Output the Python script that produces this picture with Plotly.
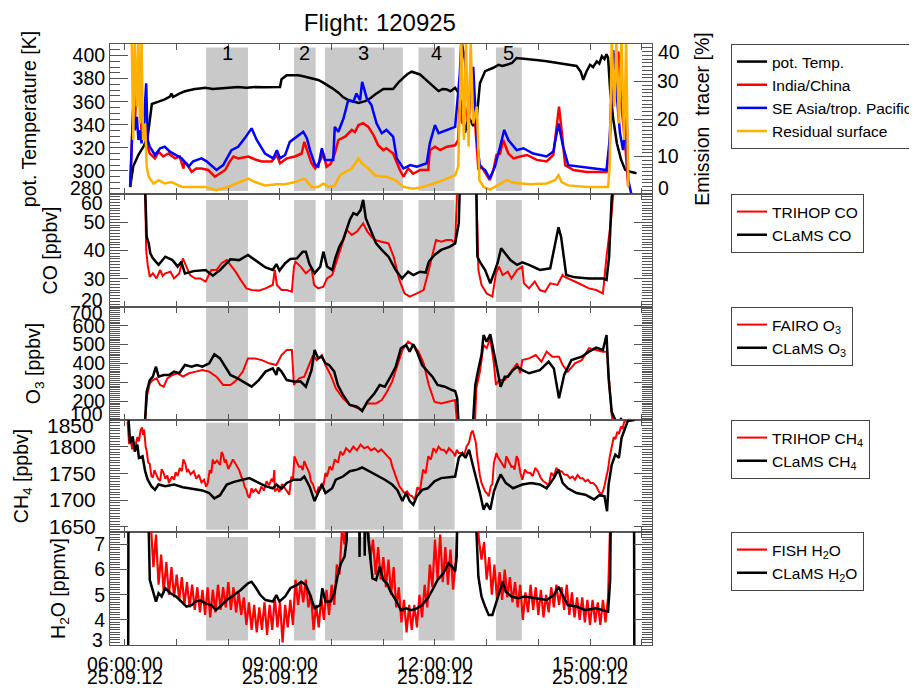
import plotly.graph_objects as go

# ---------------- data (hours UTC, value) ----------------
flight_title = "Flight: 120925"
date_label = "25.09.12"
labelled_hours = [6, 9, 12, 15]
time_labels = ["06:00:00", "09:00:00", "12:00:00", "15:00:00"]

region_start = [7.57, 9.27, 9.87, 11.68, 13.18]
region_end = [8.38, 9.69, 11.38, 12.38, 13.68]
region_names = ["1", "2", "3", "4", "5"]

theta = [(6.10, 286), (6.16, 304), (6.26, 314), (6.37, 322), (6.44, 330), (6.48, 345), (6.52, 358),
         (6.65, 360), (6.77, 362), (6.87, 364.5), (6.90, 367), (6.93, 364), (6.97, 365), (7.05, 367),
         (7.16, 369), (7.25, 370), (7.35, 371), (7.45, 371.5), (7.55, 372), (7.70, 371), (7.87, 371.6),
         (8.00, 372), (8.19, 372.7), (8.35, 372), (8.52, 372.7), (8.70, 372.5), (8.85, 372.7), (9.00, 372.7),
         (9.03, 379.4), (9.13, 382.9), (9.25, 383), (9.35, 382.9), (9.45, 382), (9.55, 380.8), (9.65, 380),
         (9.74, 378.8), (9.82, 377), (9.90, 375), (10.00, 372), (10.13, 367.8), (10.22, 364), (10.32, 361.4),
         (10.42, 360), (10.52, 359), (10.65, 360.5), (10.75, 363), (10.84, 366.3), (10.92, 369), (11.00, 371),
         (11.19, 371), (11.30, 377), (11.39, 380.8), (11.47, 384), (11.55, 386), (11.63, 385), (11.71, 383.6),
         (11.80, 380), (11.90, 376.4), (12.00, 372), (12.07, 369.2), (12.15, 371), (12.23, 370.6), (12.30, 369),
         (12.39, 372), (12.45, 368), (12.52, 356), (12.58, 333), (12.65, 347), (12.74, 339), (12.81, 347),
         (12.87, 376), (12.97, 386.5), (13.05, 388), (13.13, 389.4), (13.23, 392), (13.30, 391), (13.39, 392),
         (13.49, 393.5), (13.58, 397.9), (13.70, 397.5), (13.84, 397), (14.00, 396), (14.16, 395), (14.30, 394),
         (14.48, 393), (14.60, 392.5), (14.74, 391), (14.82, 386), (14.87, 379), (14.93, 386), (15.00, 392),
         (15.06, 390), (15.13, 395), (15.18, 393), (15.23, 399.5), (15.28, 397), (15.32, 401), (15.35, 398),
         (15.39, 370), (15.45, 345), (15.52, 324), (15.60, 310), (15.68, 301), (15.80, 299), (15.90, 298)]

tracer_india = [(6.10, 1.9), (6.13, 11.7), (6.16, 23.3), (6.19, 17.9), (6.23, 32), (6.26, 27.7), (6.29, 35.3),
                (6.32, 14.4), (6.35, 18.8), (6.40, 23.3), (6.44, 12.6), (6.48, 10.8), (6.58, 9.5), (6.65, 11.3),
                (6.74, 10), (6.84, 10.8), (6.97, 9.5), (7.06, 10), (7.13, 6.8), (7.15, 8.5), (7.19, 8.2),
                (7.29, 5.9), (7.38, 6.8), (7.48, 6.8), (7.61, 6.4), (7.74, 4.6), (7.85, 5.6), (7.94, 6.4),
                (8.02, 8.5), (8.10, 10), (8.19, 9.5), (8.30, 9.8), (8.39, 10), (8.52, 9.2), (8.65, 8.7),
                (8.84, 8.7), (8.94, 10.4), (9.00, 8.2), (9.13, 9.5), (9.29, 10), (9.42, 10.8), (9.47, 13.9),
                (9.52, 11.7), (9.61, 8.2), (9.68, 6.8), (9.77, 8.7), (9.84, 10.8), (9.90, 7.3), (9.98, 8),
                (10.06, 10.8), (10.13, 14.4), (10.26, 15.3), (10.39, 17.1), (10.45, 16.5), (10.52, 18.4),
                (10.61, 18.9), (10.71, 17.9), (10.81, 15.7), (10.90, 13), (11.00, 11.7), (11.06, 12.2),
                (11.19, 10.8), (11.32, 6.4), (11.39, 4.6), (11.48, 6.8), (11.58, 5.4), (11.71, 6.4), (11.87, 6.4),
                (11.90, 11.7), (12.00, 12.6), (12.10, 11.7), (12.23, 12.6), (12.39, 13), (12.45, 14.4),
                (12.48, 25), (12.53, 18.8), (12.58, 23.3), (12.65, 18.8), (12.71, 32), (12.77, 18.8),
                (12.84, 6.4), (12.90, 7.3), (13.00, 5), (13.06, 3.7), (13.13, 6.4), (13.19, 10.4), (13.26, 10.8),
                (13.32, 14.4), (13.42, 10.8), (13.52, 9.5), (13.65, 10), (13.78, 10.4), (13.97, 9.1),
                (14.16, 8.7), (14.29, 10.4), (14.35, 17.1), (14.40, 23.3), (14.45, 17.1), (14.52, 7.7),
                (14.68, 6.4), (14.94, 5.9), (15.13, 5.9), (15.32, 5.9), (15.38, 12.6), (15.45, 37.5),
                (15.50, 33.9), (15.55, 38), (15.61, 23.3), (15.68, 13.5), (15.74, 1.9)]

tracer_seasia = [(6.10, 1.9), (6.13, 14.4), (6.16, 23.3), (6.19, 17), (6.23, 20.6), (6.26, 14.4), (6.29, 17),
                 (6.32, 13.5), (6.37, 19.7), (6.41, 29.5), (6.44, 14.4), (6.48, 12.6), (6.58, 10.4),
                 (6.68, 12.2), (6.77, 12.6), (6.87, 11.3), (7.00, 10.4), (7.10, 9.5), (7.23, 7.3), (7.32, 8.7),
                 (7.48, 9.5), (7.58, 8.7), (7.77, 6.4), (7.90, 7.7), (8.06, 11.7), (8.19, 12.6), (8.32, 14.9),
                 (8.45, 17.5), (8.55, 14.4), (8.71, 10.8), (8.87, 9.5), (8.94, 11.7), (9.00, 9.5), (9.10, 10.4),
                 (9.19, 13.9), (9.32, 15.3), (9.45, 16.6), (9.52, 14.9), (9.58, 11.7), (9.68, 7.7), (9.74, 7.3),
                 (9.81, 12.2), (9.87, 9.1), (10.03, 9.1), (10.06, 17.9), (10.13, 16.6), (10.23, 20.2),
                 (10.32, 25), (10.42, 24.6), (10.48, 26.8), (10.55, 25), (10.59, 29.9), (10.68, 25.5),
                 (10.77, 23.7), (10.87, 18.8), (10.97, 16.2), (11.06, 17.1), (11.19, 15.3), (11.26, 9.5),
                 (11.39, 6.8), (11.52, 7.7), (11.65, 7.3), (11.84, 8.2), (11.90, 13.5), (12.00, 18.4),
                 (12.07, 16.2), (12.23, 17.1), (12.39, 17.9), (12.48, 32), (12.51, 41), (12.58, 35.7),
                 (12.65, 23.3), (12.74, 33.9), (12.81, 14.4), (12.87, 7.3), (12.97, 6.4), (13.06, 4.1),
                 (13.16, 7.3), (13.26, 12.6), (13.34, 17.1), (13.42, 14.4), (13.58, 11.7), (13.71, 12.2),
                 (13.90, 10.8), (14.16, 10), (14.29, 11.3), (14.39, 18.8), (14.48, 12.6), (14.58, 7.7),
                 (14.81, 7.3), (15.06, 6.8), (15.32, 6.4), (15.38, 14.4), (15.45, 38.4), (15.51, 27.7),
                 (15.58, 16.2), (15.64, 11.7), (15.71, 20.6), (15.74, 3.7), (15.80, 0), (15.90, -0.2)]

tracer_residual = [(6.13, 41), (6.16, 14.4), (6.19, 41), (6.23, 23.3), (6.26, 41), (6.29, 18.8), (6.32, 41),
                   (6.35, 14.4), (6.39, 18.8), (6.42, 7.3), (6.46, 4.6), (6.55, 2.8), (6.65, 3.7), (6.77, 2.8),
                   (6.90, 3.2), (7.10, 1.9), (7.35, 1.9), (7.55, 1.9), (7.77, 1.0), (8.00, 1.9), (8.19, 3.0),
                   (8.39, 4.1), (8.52, 3.2), (8.71, 2.3), (8.94, 2.6), (9.10, 2.6), (9.29, 3.2), (9.48, 4.1),
                   (9.61, 1.9), (9.74, 1.9), (9.84, 2.8), (9.94, 1.9), (10.06, 2.3), (10.16, 5), (10.26, 5.9),
                   (10.39, 6.8), (10.52, 9.5), (10.58, 8.2), (10.71, 6.8), (10.84, 5), (11.00, 4.6),
                   (11.06, 4.6), (11.23, 3.7), (11.39, 1.9), (11.58, 1.4), (11.77, 1.9), (11.97, 2.8),
                   (12.16, 3.7), (12.39, 5), (12.45, 7.3), (12.48, 23.3), (12.51, 41), (12.56, 14.4),
                   (12.60, 41), (12.65, 12.6), (12.69, 41), (12.74, 18.8), (12.81, 23.3), (12.86, 3.7),
                   (12.94, 1.9), (13.06, 1.2), (13.26, 2.8), (13.39, 3.7), (13.52, 3.0), (13.84, 2.6),
                   (14.16, 2.8), (14.32, 3.7), (14.39, 5), (14.45, 3.2), (14.58, 2.3), (14.94, 1.9),
                   (15.35, 1.9), (15.38, 7.3), (15.42, 41), (15.47, 23.3), (15.51, 41), (15.56, 18.8),
                   (15.61, 41), (15.66, 14.4), (15.70, 41), (15.72, 11.7), (15.74, 1.9)]

co_trihop = [(6.39, 62), (6.41, 40.2), (6.44, 34.9), (6.48, 30.7), (6.54, 31.9), (6.61, 30.1), (6.68, 33.1),
             (6.73, 31.0), (6.78, 31.9), (6.88, 32.5), (6.95, 30.1), (7.05, 31.9), (7.12, 37.2), (7.17, 34.9),
             (7.26, 31.3), (7.36, 30.1), (7.46, 30.1), (7.56, 29), (7.67, 33.1), (7.77, 33.1), (7.87, 35.5),
             (7.97, 36.6), (8.04, 34.9), (8.14, 32.5), (8.24, 29.6), (8.35, 26.6), (8.45, 26), (8.59, 25.8),
             (8.72, 26.6), (8.86, 27.8), (8.90, 33.1), (8.94, 27.8), (9.03, 26), (9.13, 26), (9.23, 25.4),
             (9.27, 34.3), (9.30, 36), (9.40, 34.3), (9.50, 31.9), (9.61, 33.7), (9.66, 27.8), (9.74, 26.6),
             (9.84, 27.2), (9.91, 30.1), (10.01, 31.3), (10.12, 37.8), (10.22, 43.7), (10.29, 47.3),
             (10.39, 45.5), (10.49, 46.7), (10.61, 49.6), (10.69, 46.7), (10.83, 43.7), (10.97, 43.1),
             (11.10, 42.5), (11.20, 37.8), (11.31, 29.6), (11.41, 24.8), (11.51, 23.7), (11.65, 24.8),
             (11.78, 26), (11.88, 33.1), (11.95, 39), (12.02, 43.7), (12.12, 43.1), (12.22, 43.7),
             (12.32, 43.7), (12.39, 42.5), (12.43, 62), (12.80, 62), (12.84, 33.1), (12.90, 27.8),
             (13.00, 24.8), (13.11, 23.7), (13.18, 31.9), (13.24, 34.3), (13.31, 31.3), (13.41, 32.5),
             (13.48, 30.1), (13.59, 33.1), (13.69, 34.3), (13.72, 28.4), (13.82, 26.6), (13.93, 29),
             (14.03, 26), (14.13, 25.4), (14.23, 28.4), (14.37, 27.8), (14.47, 31.3), (14.50, 30.7),
             (14.78, 28.4), (14.98, 26.6), (15.12, 26), (15.25, 24.8), (15.32, 37.8), (15.41, 51.4),
             (15.46, 62)]

co_clams = [(6.39, 62), (6.42, 44.9), (6.46, 42.5), (6.49, 39), (6.54, 37.2), (6.65, 34.9), (6.78, 37.8),
            (6.92, 36.6), (7.02, 34.3), (7.09, 36), (7.16, 31.9), (7.33, 32.7), (7.56, 33.1), (7.70, 31.1),
            (7.84, 33.1), (8.04, 36.9), (8.21, 36.6), (8.38, 38.4), (8.52, 36.6), (8.72, 34), (8.86, 33.1),
            (8.93, 35.2), (8.99, 32.9), (9.10, 35.5), (9.20, 37), (9.33, 37.2), (9.44, 39.6), (9.50, 39.6),
            (9.57, 35.2), (9.67, 31.9), (9.78, 34.3), (9.84, 39.6), (9.91, 34.3), (10.01, 33.1), (10.08, 37.8),
            (10.15, 41.4), (10.22, 43.7), (10.29, 47.8), (10.35, 50.8), (10.42, 53.2), (10.49, 52.6),
            (10.56, 54.3), (10.61, 57.9), (10.66, 51.4), (10.76, 46.7), (10.86, 42.5), (10.97, 40.2),
            (11.10, 37.8), (11.24, 33.1), (11.36, 30.1), (11.48, 32.5), (11.58, 31.3), (11.71, 32.5),
            (11.82, 32.2), (11.88, 36), (11.99, 38.4), (12.12, 40.2), (12.29, 41.4), (12.39, 42.5),
            (12.46, 49.6), (12.48, 62), (12.80, 62), (12.82, 37.8), (12.87, 36), (12.97, 33.1), (13.07, 28.4),
            (13.14, 31.9), (13.21, 35.5), (13.28, 40.8), (13.35, 39), (13.46, 36.6), (13.59, 34.9),
            (13.69, 35.8), (13.82, 34.9), (14.03, 33.1), (14.23, 33.7), (14.33, 42.5), (14.39, 48.2),
            (14.44, 44.9), (14.54, 31.3), (14.71, 30.5), (14.98, 30.1), (15.25, 30.1), (15.32, 29.6),
            (15.37, 37.8), (15.42, 59), (15.46, 62)]

o3_fairo = [(6.38, 60), (6.43, 233), (6.48, 295), (6.54, 312), (6.61, 321), (6.68, 286), (6.75, 277),
            (6.82, 321), (6.92, 339), (7.02, 348), (7.12, 330), (7.24, 348), (7.37, 357), (7.50, 365),
            (7.63, 357), (7.77, 330), (7.90, 286), (8.04, 286), (8.14, 307), (8.28, 357), (8.38, 427),
            (8.52, 427), (8.65, 418), (8.79, 401), (8.93, 392), (9.03, 445), (9.13, 472), (9.23, 472),
            (9.27, 286), (9.37, 321), (9.47, 330), (9.57, 392), (9.64, 445), (9.71, 418), (9.81, 445),
            (9.88, 392), (9.98, 339), (10.08, 268), (10.22, 215), (10.35, 180), (10.49, 162), (10.59, 153),
            (10.69, 188), (10.86, 188), (10.97, 206), (11.07, 250), (11.17, 304), (11.27, 392), (11.37, 472),
            (11.48, 516), (11.58, 498), (11.68, 463), (11.78, 401), (11.88, 286), (11.99, 197), (12.12, 188),
            (12.26, 197), (12.39, 206), (12.43, 60), (12.77, 60), (12.80, 268), (12.87, 357), (12.94, 498),
            (13.00, 481), (13.07, 534), (13.14, 401), (13.18, 286), (13.24, 312), (13.35, 312), (13.48, 357),
            (13.59, 401), (13.65, 348), (13.69, 418), (13.82, 427), (13.95, 445), (14.06, 410), (14.16, 463),
            (14.27, 436), (14.40, 436), (14.47, 392), (14.57, 357), (14.71, 401), (14.84, 418), (14.98, 481),
            (15.12, 472), (15.25, 463), (15.33, 463), (15.42, 127), (15.46, 60)]

o3_clams = [(6.38, 60), (6.42, 250), (6.48, 312), (6.54, 330), (6.60, 383), (6.65, 330), (6.75, 339),
            (6.85, 339), (6.95, 357), (7.05, 348), (7.16, 392), (7.29, 383), (7.39, 392), (7.50, 383),
            (7.63, 401), (7.73, 449), (7.84, 427), (7.94, 383), (8.04, 339), (8.18, 321), (8.31, 300),
            (8.45, 277), (8.59, 312), (8.72, 357), (8.86, 374), (8.93, 339), (8.96, 378), (9.03, 357),
            (9.13, 312), (9.27, 304), (9.40, 304), (9.50, 277), (9.61, 365), (9.67, 472), (9.74, 427),
            (9.81, 436), (9.88, 401), (9.95, 392), (10.05, 357), (10.12, 286), (10.22, 233), (10.35, 180),
            (10.49, 171), (10.59, 148), (10.69, 197), (10.83, 242), (10.93, 286), (11.03, 277), (11.14, 330),
            (11.24, 383), (11.34, 481), (11.44, 498), (11.51, 463), (11.58, 502), (11.65, 463), (11.75, 392),
            (11.86, 357), (11.95, 330), (12.05, 286), (12.19, 277), (12.33, 259), (12.39, 254), (12.43, 215),
            (12.46, 60), (12.73, 60), (12.78, 286), (12.83, 357), (12.90, 445), (12.94, 551), (13.00, 516),
            (13.07, 555), (13.14, 454), (13.20, 357), (13.27, 277), (13.35, 330), (13.41, 330), (13.51, 365),
            (13.59, 383), (13.69, 365), (13.82, 348), (14.03, 365), (14.20, 410), (14.30, 374), (14.40, 215),
            (14.50, 339), (14.64, 418), (14.84, 436), (14.98, 463), (15.12, 484), (15.25, 472), (15.32, 551),
            (15.36, 321), (15.42, 144), (15.49, 100), (15.55, 92), (15.60, 105), (15.66, 90), (15.75, 100),
            (15.86, 97)]

ch4_trihop = [(6.05, 1847), (6.08, 1805), (6.11, 1812), (6.14, 1795), (6.17, 1808), (6.20, 1800), (6.24, 1818),
              (6.27, 1810), (6.30, 1830), (6.33, 1836), (6.35, 1822), (6.37, 1832), (6.40, 1800), (6.42, 1792),
              (6.45, 1770), (6.48, 1768), (6.51, 1745), (6.54, 1742), (6.57, 1756), (6.61, 1748), (6.64, 1740),
              (6.68, 1736), (6.71, 1758), (6.75, 1750), (6.78, 1740), (6.82, 1746), (6.85, 1732), (6.88, 1738),
              (6.91, 1744), (6.95, 1738), (6.98, 1752), (7.02, 1745), (7.06, 1760), (7.10, 1754), (7.13, 1776),
              (7.17, 1768), (7.20, 1752), (7.22, 1758), (7.27, 1748), (7.33, 1754), (7.38, 1740), (7.43, 1747),
              (7.48, 1733), (7.53, 1738), (7.57, 1725), (7.60, 1731), (7.64, 1756), (7.67, 1750), (7.70, 1776),
              (7.73, 1768), (7.78, 1774), (7.84, 1766), (7.87, 1790), (7.90, 1784), (7.93, 1770), (7.95, 1776),
              (8.00, 1758), (8.04, 1766), (8.09, 1776), (8.14, 1768), (8.18, 1762), (8.21, 1756), (8.25, 1744),
              (8.28, 1738), (8.32, 1724), (8.35, 1719), (8.38, 1708), (8.41, 1704), (8.45, 1722), (8.48, 1715),
              (8.53, 1720), (8.59, 1712), (8.64, 1725), (8.69, 1718), (8.74, 1735), (8.79, 1728), (8.84, 1740),
              (8.87, 1734), (8.89, 1756), (8.90, 1716), (8.95, 1722), (8.99, 1715), (9.04, 1730), (9.10, 1722),
              (9.14, 1716), (9.18, 1710), (9.22, 1744), (9.25, 1738), (9.28, 1782), (9.30, 1776), (9.34, 1768),
              (9.37, 1762), (9.41, 1763), (9.44, 1756), (9.47, 1773), (9.50, 1766), (9.54, 1757), (9.57, 1750),
              (9.60, 1735), (9.64, 1729), (9.67, 1719), (9.71, 1712), (9.75, 1725), (9.78, 1718), (9.81, 1732),
              (9.84, 1726), (9.88, 1751), (9.91, 1744), (9.96, 1763), (10.01, 1756), (10.06, 1776), (10.12, 1770),
              (10.17, 1791), (10.22, 1784), (10.28, 1797), (10.35, 1790), (10.42, 1800), (10.49, 1793),
              (10.56, 1804), (10.63, 1797), (10.70, 1800), (10.76, 1793), (10.83, 1797), (10.90, 1790),
              (10.96, 1795), (11.03, 1788), (11.08, 1782), (11.14, 1776), (11.17, 1764), (11.20, 1757),
              (11.25, 1742), (11.31, 1726), (11.36, 1720), (11.41, 1713), (11.46, 1716), (11.51, 1709),
              (11.56, 1707), (11.61, 1700), (11.66, 1724), (11.71, 1718), (11.77, 1757), (11.82, 1750),
              (11.87, 1782), (11.92, 1776), (11.97, 1797), (12.02, 1790), (12.07, 1800), (12.12, 1794),
              (12.17, 1794), (12.22, 1788), (12.27, 1797), (12.33, 1790), (12.36, 1788), (12.39, 1782),
              (12.42, 1794), (12.46, 1788), (12.51, 1788), (12.56, 1782), (12.61, 1800), (12.66, 1808),
              (12.70, 1826), (12.73, 1830), (12.76, 1818), (12.79, 1808), (12.82, 1780), (12.84, 1764),
              (12.87, 1745), (12.90, 1732), (12.94, 1722), (12.97, 1716), (13.01, 1712), (13.04, 1707),
              (13.08, 1726), (13.11, 1730), (13.14, 1770), (13.16, 1778), (13.19, 1788), (13.21, 1782),
              (13.25, 1776), (13.28, 1770), (13.32, 1766), (13.35, 1760), (13.38, 1782), (13.41, 1776),
              (13.45, 1769), (13.48, 1762), (13.51, 1763), (13.54, 1757), (13.58, 1782), (13.61, 1776),
              (13.65, 1752), (13.69, 1738), (13.74, 1757), (13.79, 1751), (13.84, 1751), (13.89, 1745),
              (13.94, 1760), (13.99, 1754), (14.05, 1741), (14.10, 1735), (14.15, 1732), (14.20, 1726),
              (14.25, 1751), (14.30, 1745), (14.35, 1760), (14.40, 1754), (14.45, 1754), (14.50, 1748),
              (14.56, 1747), (14.61, 1741), (14.66, 1744), (14.71, 1738), (14.76, 1747), (14.81, 1741),
              (14.86, 1741), (14.91, 1735), (14.96, 1738), (15.01, 1732), (15.06, 1732), (15.12, 1726),
              (15.17, 1716), (15.22, 1710), (15.25, 1716), (15.28, 1726), (15.32, 1745), (15.35, 1758),
              (15.38, 1780), (15.42, 1802), (15.46, 1818), (15.49, 1814), (15.53, 1828), (15.56, 1824),
              (15.60, 1838), (15.63, 1833), (15.66, 1846), (15.69, 1848)]

ch4_clams = [(6.07, 1850), (6.10, 1807), (6.15, 1819), (6.19, 1791), (6.24, 1804), (6.27, 1779), (6.34, 1782),
             (6.39, 1754), (6.44, 1738), (6.51, 1726), (6.58, 1719), (6.65, 1729), (6.78, 1726), (6.95, 1729),
             (7.12, 1724), (7.29, 1721), (7.50, 1718), (7.63, 1713), (7.73, 1703), (7.84, 1709), (7.97, 1729),
             (8.11, 1734), (8.28, 1738), (8.41, 1741), (8.59, 1732), (8.72, 1726), (8.86, 1722), (8.93, 1729),
             (9.03, 1721), (9.13, 1732), (9.27, 1738), (9.40, 1738), (9.47, 1744), (9.57, 1726), (9.67, 1698),
             (9.74, 1713), (9.81, 1729), (9.88, 1713), (10.01, 1722), (10.08, 1738), (10.22, 1744),
             (10.35, 1754), (10.49, 1757), (10.59, 1761), (10.73, 1754), (10.86, 1748), (11.03, 1738),
             (11.17, 1729), (11.27, 1719), (11.37, 1698), (11.44, 1713), (11.51, 1698), (11.58, 1691),
             (11.65, 1707), (11.75, 1719), (11.86, 1722), (11.99, 1735), (12.12, 1741), (12.26, 1742),
             (12.39, 1744), (12.46, 1779), (12.53, 1788), (12.59, 1779), (12.66, 1794), (12.73, 1766),
             (12.80, 1741), (12.87, 1713), (12.94, 1682), (13.00, 1694), (13.07, 1682), (13.14, 1716),
             (13.20, 1732), (13.27, 1748), (13.37, 1732), (13.51, 1722), (13.69, 1729), (13.86, 1732),
             (14.03, 1729), (14.16, 1722), (14.30, 1741), (14.39, 1757), (14.47, 1732), (14.57, 1722),
             (14.74, 1713), (14.91, 1710), (15.08, 1701), (15.18, 1709), (15.28, 1707), (15.33, 1679),
             (15.36, 1729), (15.42, 1766), (15.49, 1785), (15.56, 1779), (15.61, 1816), (15.66, 1829),
             (15.73, 1848), (15.86, 1850)]

h2o_fish = [(6.48, 8.5), (6.50, 7.8), (6.55, 6.1), (6.60, 7.4), (6.65, 5.4), (6.70, 6.6), (6.75, 5.1),
            (6.80, 6.3), (6.85, 5.0), (6.90, 6.1), (6.95, 4.9), (7.00, 5.8), (7.05, 4.8), (7.10, 5.7),
            (7.15, 4.6), (7.20, 5.5), (7.25, 4.5), (7.30, 5.4), (7.35, 4.4), (7.40, 5.3), (7.45, 4.3),
            (7.50, 5.2), (7.55, 4.2), (7.60, 5.3), (7.65, 4.1), (7.70, 5.2), (7.75, 4.3), (7.80, 5.4),
            (7.85, 4.4), (7.90, 5.3), (7.95, 4.5), (8.00, 5.5), (8.05, 4.4), (8.10, 5.3), (8.15, 4.3),
            (8.20, 5.1), (8.25, 4.2), (8.30, 4.9), (8.35, 3.8), (8.40, 4.7), (8.45, 3.6), (8.50, 4.6),
            (8.55, 3.5), (8.60, 4.5), (8.65, 3.6), (8.70, 4.7), (8.75, 3.4), (8.80, 4.6), (8.85, 3.6),
            (8.90, 4.9), (8.95, 3.7), (9.00, 4.7), (9.05, 3.1), (9.10, 4.6), (9.15, 3.7), (9.20, 4.8),
            (9.25, 3.8), (9.30, 5.6), (9.35, 4.6), (9.40, 5.5), (9.45, 4.7), (9.50, 5.6), (9.55, 4.5),
            (9.60, 5.0), (9.65, 3.6), (9.70, 4.6), (9.75, 3.7), (9.80, 4.9), (9.85, 4.0), (9.90, 5.2),
            (9.95, 4.2), (10.00, 5.4), (10.05, 4.6), (10.10, 6.2), (10.15, 5.8), (10.20, 7.6), (10.25, 7.0),
            (10.30, 8.5), (10.70, 8.5), (10.72, 7.3), (10.75, 6.4), (10.80, 7.2), (10.85, 5.8), (10.90, 6.9),
            (10.95, 5.6), (11.00, 6.5), (11.05, 5.3), (11.10, 6.4), (11.15, 5.0), (11.20, 6.1), (11.25, 4.5),
            (11.30, 5.3), (11.35, 3.9), (11.40, 4.8), (11.45, 3.5), (11.50, 4.6), (11.55, 3.6), (11.60, 4.6),
            (11.65, 3.7), (11.70, 5.0), (11.75, 4.1), (11.80, 5.4), (11.85, 4.5), (11.90, 6.2), (11.95, 5.3),
            (12.00, 7.2), (12.05, 5.6), (12.10, 7.4), (12.15, 5.5), (12.20, 6.9), (12.25, 5.4), (12.30, 6.8),
            (12.35, 5.2), (12.40, 6.3), (12.45, 8.5), (12.80, 8.5), (12.85, 7.2), (12.90, 6.4), (12.95, 7.1),
            (13.00, 5.6), (13.05, 6.5), (13.10, 5.0), (13.15, 6.2), (13.20, 4.8), (13.25, 5.9), (13.30, 4.8),
            (13.35, 6.0), (13.40, 4.9), (13.45, 5.7), (13.50, 4.7), (13.55, 5.5), (13.60, 4.5), (13.65, 5.4),
            (13.70, 4.0), (13.75, 5.1), (13.80, 4.3), (13.85, 5.4), (13.90, 4.4), (13.95, 5.3), (14.00, 4.2),
            (14.05, 5.2), (14.10, 4.1), (14.15, 5.0), (14.20, 4.3), (14.25, 5.3), (14.30, 4.5), (14.35, 5.4),
            (14.40, 4.6), (14.45, 5.3), (14.50, 4.4), (14.55, 5.4), (14.60, 4.2), (14.65, 5.1), (14.70, 4.1),
            (14.75, 4.9), (14.80, 4.0), (14.85, 4.9), (14.90, 3.9), (14.95, 4.8), (15.00, 3.8), (15.05, 4.8),
            (15.10, 3.9), (15.15, 4.7), (15.20, 3.8), (15.25, 4.8), (15.30, 3.9), (15.35, 4.9), (15.40, 8.5)]

h2o_clams = [(6.06, 0.0), (6.07, 12.0), (6.45, 12.0), (6.46, 7.6), (6.48, 5.59), (6.54, 5.19), (6.60, 4.73),
             (6.65, 5.06), (6.71, 4.93), (6.78, 5.26), (6.88, 5.06), (6.99, 4.93), (7.09, 4.73), (7.19, 4.53),
             (7.29, 4.59), (7.36, 4.73), (7.46, 4.77), (7.56, 4.66), (7.67, 4.59), (7.76, 4.39), (7.84, 4.53),
             (7.97, 4.79), (8.11, 4.99), (8.24, 5.19), (8.38, 5.46), (8.45, 5.52), (8.52, 5.32), (8.62, 4.99),
             (8.72, 4.79), (8.86, 4.73), (8.93, 4.99), (8.99, 4.73), (9.10, 4.93), (9.20, 5.26), (9.33, 5.39),
             (9.41, 5.52), (9.50, 5.39), (9.57, 5.06), (9.67, 4.46), (9.78, 4.59), (9.82, 5.26), (9.88, 4.73),
             (9.98, 4.73), (10.05, 5.06), (10.12, 5.79), (10.18, 6.25), (10.25, 6.52), (10.29, 7.18),
             (10.32, 9.0), (10.53, 9.0), (10.54, 6.5), (10.55, 9.0), (10.63, 9.0), (10.64, 6.55), (10.65, 9.0),
             (10.69, 7.6), (10.76, 6.25), (10.79, 5.65), (10.86, 5.59), (10.93, 6.12), (11.00, 5.59),
             (11.07, 5.46), (11.14, 5.12), (11.24, 4.79), (11.34, 4.39), (11.44, 4.46), (11.54, 4.39),
             (11.65, 4.46), (11.75, 4.59), (11.86, 4.86), (11.95, 5.19), (12.05, 5.59), (12.16, 5.85),
             (12.26, 6.25), (12.33, 6.12), (12.39, 5.92), (12.42, 6.52), (12.44, 7.6), (12.46, 12.0),
             (12.79, 12.0), (12.80, 7.6), (12.84, 5.72), (12.90, 4.93), (12.97, 4.53), (13.04, 4.19),
             (13.11, 4.19), (13.18, 4.66), (13.24, 4.99), (13.31, 5.52), (13.37, 5.12), (13.48, 4.93),
             (13.61, 4.86), (13.73, 4.93), (13.95, 4.86), (14.16, 4.79), (14.30, 4.99), (14.39, 5.32),
             (14.47, 4.99), (14.57, 4.59), (14.74, 4.53), (14.91, 4.39), (15.12, 4.46), (15.25, 4.39),
             (15.35, 4.33), (15.39, 5.59), (15.41, 7.6), (15.42, 12.0), (15.85, 12.0), (15.86, 0.0)]


def unzip(pairs):
    return [p[0] for p in pairs], [p[1] for p in pairs]


# ---------------- styling ----------------
FONT = "Liberation Sans, Arial, Helvetica, sans-serif"
TICKFONT = dict(family=FONT, size=19.5, color="black")
LINEC = "#555555"
RED, BLUE, ORANGE, BLACK = "#ff0000", "#0000ff", "#ffb000", "#000000"
SHADE = "#c9c9c9"

W, H = 917, 688
OFF = 8                       # page body margin offset of the rendered page
L, T = 110 - OFF, 44 - OFF    # plot area left/top in figure pixels
PLOT_W = 542
PLOT_B = 645 - OFF
R = W - L - PLOT_W
B = H - PLOT_B
PH = PLOT_B - T
panel_top = [44, 194, 307, 420, 532]
panel_bot = [194, 307, 420, 532, 645]


def dom(i):
    return [(645 - panel_bot[i]) / PH, (645 - panel_top[i]) / PH]


fig = go.Figure()


def add(pairs, name, color, width, xa, ya, leg):
    x, y = unzip(pairs)
    fig.add_trace(go.Scatter(x=x, y=y, mode="lines", name=name,
                             line=dict(color=color, width=width),
                             xaxis=xa, yaxis=ya, legend=leg))


add(theta, "pot. Temp.", BLACK, 2.5, "x", "y", "legend")
add(tracer_india, "India/China", RED, 2.5, "x", "y6", "legend")
add(tracer_seasia, "SE Asia/trop. Pacific", BLUE, 2.5, "x", "y6", "legend")
add(tracer_residual, "Residual surface", ORANGE, 2.5, "x", "y6", "legend")
add(co_trihop, "TRIHOP CO", RED, 2, "x2", "y2", "legend2")
add(co_clams, "CLaMS CO", BLACK, 2.5, "x2", "y2", "legend2")
add(o3_fairo, "FAIRO O<sub>3</sub>", RED, 2, "x3", "y3", "legend3")
add(o3_clams, "CLaMS O<sub>3</sub>", BLACK, 2.5, "x3", "y3", "legend3")
add(ch4_trihop, "TRIHOP CH<sub>4</sub>", RED, 2, "x4", "y4", "legend4")
add(ch4_clams, "CLaMS CH<sub>4</sub>", BLACK, 2.5, "x4", "y4", "legend4")
add(h2o_fish, "FISH H<sub>2</sub>O", RED, 2.2, "x5", "y5", "legend5")
add(h2o_clams, "CLaMS H<sub>2</sub>O", BLACK, 2.5, "x5", "y5", "legend5")

common = dict(showline=True, linecolor=LINEC, linewidth=1, ticks="inside", tickcolor=LINEC,
              showgrid=False, zeroline=False, tickfont=TICKFONT)

layout = dict(width=W, height=H, paper_bgcolor="white", plot_bgcolor="white",
              margin=dict(l=L, r=R, t=T, b=B, autoexpand=False),
              font=dict(family=FONT, color="black"),
              title=dict(text=flight_title, x=0.498, xref="paper", xanchor="center",
                         y=1 - (23 - OFF) / H, yref="container", yanchor="middle",
                         font=dict(family=FONT, size=24, color="black")))

for i in range(5):
    key = "xaxis" if i == 0 else f"xaxis{i + 1}"
    ax = dict(common, domain=[0, 1], anchor="y" if i == 0 else f"y{i + 1}", range=[5.71, 16.2],
              tickmode="array", tickvals=labelled_hours, ticktext=time_labels, ticklen=6,
              minor=dict(ticks="inside", tickmode="linear", tick0=6, dtick=1, ticklen=6, tickcolor=LINEC),
              mirror="allticks", showticklabels=(i == 4), ticklabelstandoff=2)
    if i > 0:
        ax["matches"] = "x"
    layout[key] = ax


def yax(i, rng, tv, dt_minor, title, standoff, **kw):
    d = dict(common, domain=dom(i), range=rng, tickmode="array", tickvals=tv,
             ticktext=[f"{v:g}" for v in tv], ticklen=18,
             minor=dict(ticks="inside", tickmode="linear", tick0=rng[0], dtick=dt_minor, ticklen=10,
                        tickcolor=LINEC),
             title=dict(text=title, standoff=standoff, font=dict(family=FONT, size=19.5, color="black")))
    d.update(kw)
    return d


layout["yaxis"] = yax(0, [280, 410], [300, 320, 340, 360, 380, 400], 5,
                      "pot. Temperature [K]", 30, anchor="x", mirror=False)
layout["yaxis6"] = yax(0, [0, 40], [10, 20, 30], 1,
                       "Emission\u00a0 tracer [%]", 17, anchor="x", overlaying="y", side="right",
                       mirror=False)
layout["yaxis2"] = yax(1, [20, 60], [30, 40, 50], 1,
                       "CO [ppbv]", 20, anchor="x2", mirror="allticks")
layout["yaxis3"] = yax(2, [100, 700], [200, 300, 400, 500, 600], 10,
                       "O<sub>3</sub> [ppbv]", 26, anchor="x3", mirror="allticks")
layout["yaxis4"] = yax(3, [1640, 1850], [1650, 1700, 1750, 1800], 5,
                       "CH<sub>4</sub> [ppbv]", 15, anchor="x4", mirror="allticks",
                       ticklabelstandoff=9, tickfont=dict(family=FONT, size=21, color="black"))
layout["yaxis5"] = yax(4, [3, 7.5], [4, 5, 6, 7], 0.1,
                       "H<sub>2</sub>O [ppmv]", 23, anchor="x5", mirror="allticks")

# legends
leg_x = (731 - 110) / PLOT_W
for i in range(5):
    key = "legend" if i == 0 else f"legend{i + 1}"
    layout[key] = dict(x=leg_x, xanchor="left", y=dom(i)[1], yanchor="top", bgcolor="white",
                       bordercolor="#444444", borderwidth=1, tracegroupgap=0, itemwidth=30,
                       font=dict(family=FONT, size=15.5, color="black"))

fig.update_layout(**layout)

# shaded flight segments
shade_extent = {"y": (282.5, 407), "y2": (21.8, 57.9), "y3": (100, 700), "y4": (1644, 1845), "y5": (3.18, 7.3)}
for s, e in zip(region_start, region_end):
    for yref, (lo, hi) in shade_extent.items():
        fig.add_shape(type="rect", xref="x", yref=yref, x0=s, x1=e, y0=lo, y1=hi,
                      fillcolor=SHADE, line=dict(width=0), layer="below")

for s, e, n in zip(region_start, region_end, region_names):
    fig.add_annotation(x=(s + e) / 2, xref="x", y=402, yref="y", text=n, showarrow=False,
                       font=dict(family=FONT, size=20, color="black"), yanchor="middle")

# edge tick labels (shifted inward as in the original)
edge_labels = [("y", 280, "280", 6, "left", 19.5), ("y2", 60, "60", -9, "left", 19.5),
               ("y2", 20, "20", 7, "left", 19.5), ("y3", 700, "700", -6, "left", 19.5),
               ("y3", 100, "100", 6, "left", 19.5), ("y4", 1850, "1850", -5, "left", 21),
               ("y5", 3, "3", 5, "left", 19.5), ("y6", 40, "40", -8, "right", 19.5),
               ("y6", 0, "0", 6, "right", 19.5)]
for yref, val, txt, shift, side, fs in edge_labels:
    xs = -5 if side == "left" else 4
    if yref == "y4":
        xs = -14
    fig.add_annotation(x=0 if side == "left" else 1, xref="paper", y=val, yref=yref, text=txt,
                       showarrow=False, xanchor="right" if side == "left" else "left",
                       xshift=xs, yshift=shift, yanchor="middle",
                       font=dict(family=FONT, size=fs, color="black"))

# date line under the time tick labels
for hh in labelled_hours:
    fig.add_annotation(x=hh, xref="x5", y=0, yref="paper", text=date_label, showarrow=False,
                       yanchor="middle", yshift=-32, font=TICKFONT)

fig.write_html("out.html")
